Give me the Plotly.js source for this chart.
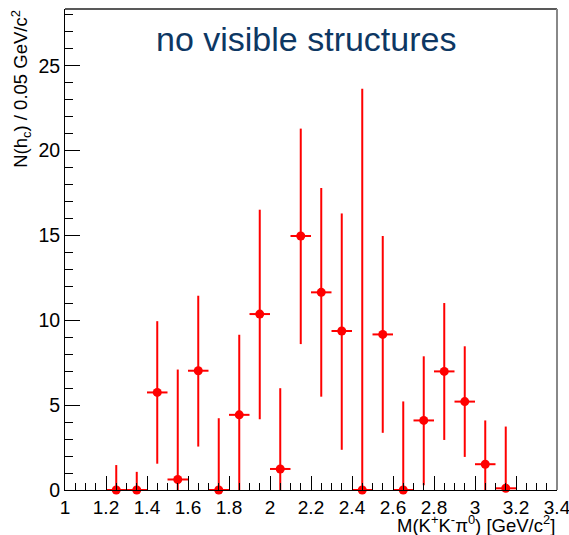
<!DOCTYPE html>
<html>
<head>
<meta charset="utf-8">
<script src="https://cdn.plot.ly/plotly-3.0.1.min.js"></script>
<style>html,body{margin:0;padding:0;background:#fff;}#chart{width:569px;height:535px;}</style>
</head>
<body>
<div id="chart"></div>
<script>
// Bin centres (GeV/c^2)
const massBins = [1.25,1.35,1.45,1.55,1.65,1.75,1.85,1.95,2.05,2.15,2.25,2.35,2.45,2.55,2.65,2.75,2.85,2.95,3.05,3.15];
// N(h_c) per bin
const counts   = [0,0,5.75,0.62,7.03,0,4.43,10.37,1.24,14.97,11.65,9.37,0,9.17,0,4.1,6.99,5.21,1.52,0.1];
// upper edge of error bar
const errTop   = [1.47,1.07,9.95,7.1,11.45,4.23,9.15,16.52,6.0,21.3,17.8,16.3,23.65,14.97,5.22,7.88,11.02,8.47,4.1,3.74];
// lower edge of error bar
const errBot   = [0,0,1.55,0,2.56,0,0,4.17,0,8.6,5.5,2.37,0,3.37,0,0.28,2.95,1.95,0,0];
const halfBin  = 0.05;

const errPlus  = counts.map((v,i)=>errTop[i]-v);
const errMinus = counts.map((v,i)=>v-errBot[i]);

const trace = {
  x: massBins, y: counts, type: 'scatter', mode: 'markers',
  marker: {color: '#ff0000', size: 9},
  error_y: {type:'data', symmetric:false, array: errPlus, arrayminus: errMinus, color:'#ff0000', thickness:2, width:0},
  error_x: {type:'data', array: massBins.map(()=>halfBin), color:'#ff0000', thickness:2, width:0},
  cliponaxis: false, hoverinfo: 'x+y'
};

const fnt = 'Liberation Sans, Arial, Helvetica, sans-serif';
const layout = {
  width: 569, height: 535,
  margin: {l: 65, r: 12, t: 9, b: 45},
  paper_bgcolor: '#fff', plot_bgcolor: '#fff',
  showlegend: false,
  font: {family: fnt, size: 19, color: '#000'},
  xaxis: {
    range: [1, 3.40001], dtick: 0.2, tick0: 1,
    ticks: 'inside', ticklen: 14, tickwidth: 1, tickcolor: '#000',
    minor: {dtick: 0.05, ticks: 'inside', ticklen: 7, tickwidth: 1, tickcolor: '#000'},
    showline: true, linecolor: '#000', linewidth: 1,
    showgrid: false, zeroline: false, ticklabeloverflow: 'allow',
    tickfont: {family: fnt, size: 19, color: '#000'}
  },
  yaxis: {
    range: [0, 28.35], dtick: 5, tick0: 0,
    ticks: 'inside', ticklen: 15, tickwidth: 1, tickcolor: '#000',
    minor: {dtick: 1, ticks: 'inside', ticklen: 8, tickwidth: 1, tickcolor: '#000'},
    showline: true, linecolor: '#000', linewidth: 1,
    showgrid: false, zeroline: false, ticklabeloverflow: 'allow',
    tickfont: {family: fnt, size: 19.5, color: '#000'}
  },
  shapes: [
    {type:'line', xref:'paper', yref:'paper', x0:0, x1:1, y0:1, y1:1, line:{color:'#222', width:1.5}},
    {type:'line', xref:'paper', yref:'paper', x0:1, x1:1, y0:0, y1:1, line:{color:'#888', width:2}}
  ],
  annotations: [
    {text: 'no visible structures', xref:'paper', yref:'paper', x: 0.489, y: 0.937, xanchor:'center', yanchor:'middle', showarrow:false,
     font:{family: fnt, size: 34, color:'#0d3763'}},
    {text: 'M(K<sup>+</sup>K<sup>-</sup>π<sup>0</sup>) [GeV/c<sup>2</sup>]', xref:'paper', yref:'paper', x: 1, y: -0.0998, xanchor:'right', yanchor:'bottom', showarrow:false,
     font:{family: fnt, size: 18.5, color:'#000'}},
    {text: 'N(h<sub>c</sub>) / 0.05 GeV/c<sup>2</sup>', xref:'paper', yref:'paper', x: -0.089, y: 1.003, xanchor:'center', yanchor:'top', textangle:-90, showarrow:false,
     font:{family: fnt, size: 18.5, color:'#000'}}
  ]
};

Plotly.newPlot('chart', [trace], layout, {displayModeBar: false, staticPlot: true});
</script>
</body>
</html>
